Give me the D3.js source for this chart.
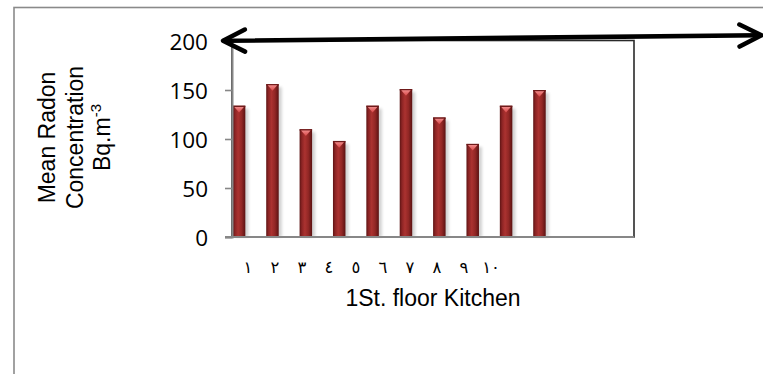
<!DOCTYPE html>
<html>
<head>
<meta charset="utf-8">
<script src="https://cdn.jsdelivr.net/npm/d3@7"></script>
<style>
  html, body { margin: 0; padding: 0; background: #fff; }
  svg { display: block; }
</style>
</head>
<body>
<svg id="chart" width="763" height="374"></svg>
<script>
// Mean radon concentration per site, first-floor kitchens
const sites = [1, 2, 3, 4, 5, 6, 7, 8, 9, 10];
const siteLabels = ["١", "٢", "٣", "٤", "٥", "٦", "٧", "٨", "٩", "١٠"];
const radon = [134, 156, 110, 98, 134, 151, 122, 95, 134, 150];
const yTicks = [0, 50, 100, 150, 200];

const svg = d3.select("#chart");

// plot frame
const plot = { left: 232, right: 634, top: 41, bottom: 237 };

const y = d3.scaleLinear().domain([0, 200]).range([plot.bottom, plot.top]);
// bar centres run along a 12-slot frame; only the first ten are used
const x = d3.scaleBand().domain(d3.range(1, 13)).range([222.4, 622.9]);
const xLab = d3.scalePoint().domain(siteLabels).range([248, 491]);
const barW = 12.5;

const defs = svg.append("defs");
const grad = defs.append("linearGradient").attr("id", "barFill")
  .attr("x1", "0%").attr("x2", "100%").attr("y1", "0%").attr("y2", "0%");
[[0, "#5e1414"], [0.18, "#8c2424"], [0.42, "#ab3230"], [0.7, "#922725"], [1, "#5a1212"]]
  .forEach(([o, c]) => grad.append("stop").attr("offset", o).attr("stop-color", c));
const capGrad = defs.append("linearGradient").attr("id", "capFill")
  .attr("x1", "0%").attr("x2", "0%").attr("y1", "0%").attr("y2", "100%");
[[0, "#f08a8a"], [1, "#d84848"]]
  .forEach(([o, c]) => capGrad.append("stop").attr("offset", o).attr("stop-color", c));
defs.append("filter").attr("id", "soft").attr("x", "-50%").attr("width", "200%")
  .append("feGaussianBlur").attr("stdDeviation", 1.6);

// outer chart border
svg.append("rect")
  .attr("x", 14).attr("y", 7.5).attr("width", 820).attr("height", 420)
  .attr("fill", "none").attr("stroke", "#8a8a8a").attr("stroke-width", 1.6);

// plot area border
svg.append("rect")
  .attr("x", plot.left).attr("y", plot.top - 0.5)
  .attr("width", plot.right - plot.left).attr("height", plot.bottom - plot.top + 0.5)
  .attr("fill", "none").attr("stroke", "#2a2a2a").attr("stroke-width", 1.6);

// bars
const bars = svg.append("g");
const cx = d => x(d) + x.bandwidth() / 2;
bars.selectAll("rect.shadow").data(sites).join("rect")
  .attr("class", "shadow")
  .attr("x", d => cx(d) - barW / 2 + 3)
  .attr("y", (d, i) => y(radon[i]) + 3)
  .attr("width", barW)
  .attr("height", (d, i) => plot.bottom - y(radon[i]) - 3)
  .attr("fill", "#000").attr("opacity", 0.18).attr("filter", "url(#soft)");
bars.selectAll("rect.bar").data(sites).join("rect")
  .attr("class", "bar")
  .attr("x", d => cx(d) - barW / 2)
  .attr("y", (d, i) => y(radon[i]))
  .attr("width", barW)
  .attr("height", (d, i) => plot.bottom - y(radon[i]))
  .attr("fill", "url(#barFill)");
bars.selectAll("rect.rim").data(sites).join("rect")
  .attr("class", "rim")
  .attr("x", d => cx(d) - barW / 2)
  .attr("y", (d, i) => y(radon[i]))
  .attr("width", barW).attr("height", 1.5)
  .attr("fill", "#6e1a1a");
bars.selectAll("path.cap").data(sites).join("path")
  .attr("class", "cap")
  .attr("d", (d, i) => {
    const t = y(radon[i]) + 1.2, c = cx(d);
    return `M${c - barW / 2 + 1.5},${t} L${c + barW / 2 - 1.5},${t} L${c},${t + 5.5} Z`;
  })
  .attr("fill", "url(#capFill)");

// y axis
const yAxis = d3.axisLeft(y).tickValues(yTicks).tickSize(7).tickPadding(17);
const gy = svg.append("g").attr("transform", `translate(${plot.left},0)`).call(yAxis);
gy.select(".domain").attr("stroke", "#878787").attr("stroke-width", 2);
gy.selectAll(".tick line").attr("stroke", "#878787").attr("stroke-width", 1.6);
gy.selectAll(".tick text")
  .attr("font-family", "'Open Sans', sans-serif").attr("font-size", 22.5)
  .attr("fill", "#000").attr("dy", "0.36em");

// x axis line
svg.append("line")
  .attr("x1", plot.left - 7).attr("x2", plot.right)
  .attr("y1", plot.bottom).attr("y2", plot.bottom)
  .attr("stroke", "#878787").attr("stroke-width", 2.2);

// site labels
svg.append("g").selectAll("text").data(siteLabels).join("text")
  .attr("x", d => xLab(d)).attr("y", 273)
  .attr("text-anchor", "middle")
  .attr("font-family", "'DejaVu Sans', sans-serif").attr("font-size", 16.5)
  .attr("fill", "#000")
  .text(d => d);

// axis titles
svg.append("text")
  .attr("x", 433).attr("y", 306)
  .attr("text-anchor", "middle")
  .attr("font-family", "'Liberation Sans', Arial, sans-serif").attr("font-size", 23)
  .attr("fill", "#000")
  .text("1St. floor Kitchen");

const yt = svg.append("g").attr("transform", "translate(0,137.5) rotate(-90)")
  .attr("font-family", "'Liberation Sans', Arial, sans-serif").attr("font-size", 23)
  .attr("fill", "#000").attr("text-anchor", "middle");
yt.append("text").attr("x", 0).attr("y", 55).text("Mean Radon");
yt.append("text").attr("x", 0).attr("y", 83).text("Concentration");
const unit = yt.append("text").attr("x", 0).attr("y", 110);
unit.append("tspan").text("Bq.m");
unit.append("tspan").attr("font-size", 15).attr("dy", -9).text("-3");

// double-headed arrow across the top of the frame
const a0 = [223, 40.8], a1 = [761.5, 35.3];
const ang = Math.atan2(a1[1] - a0[1], a1[0] - a0[0]);
const arrow = svg.append("g").attr("stroke", "#000").attr("stroke-width", 4.6)
  .attr("stroke-linecap", "round").attr("stroke-linejoin", "round").attr("fill", "none");
arrow.append("line").attr("x1", a0[0] + 2).attr("y1", a0[1]).attr("x2", a1[0] - 2).attr("y2", a1[1]);
function head(tip, dir) {
  const L = 22, S = 11;
  const ux = Math.cos(ang) * dir, uy = Math.sin(ang) * dir;
  const px = -uy, py = ux;
  const b = [tip[0] - ux * L, tip[1] - uy * L];
  return `M${b[0] + px * S},${b[1] + py * S} L${tip[0]},${tip[1]} L${b[0] - px * S},${b[1] - py * S}`;
}
arrow.append("path").attr("d", head(a0, -1));
arrow.append("path").attr("d", head(a1, 1));
</script>
</body>
</html>
